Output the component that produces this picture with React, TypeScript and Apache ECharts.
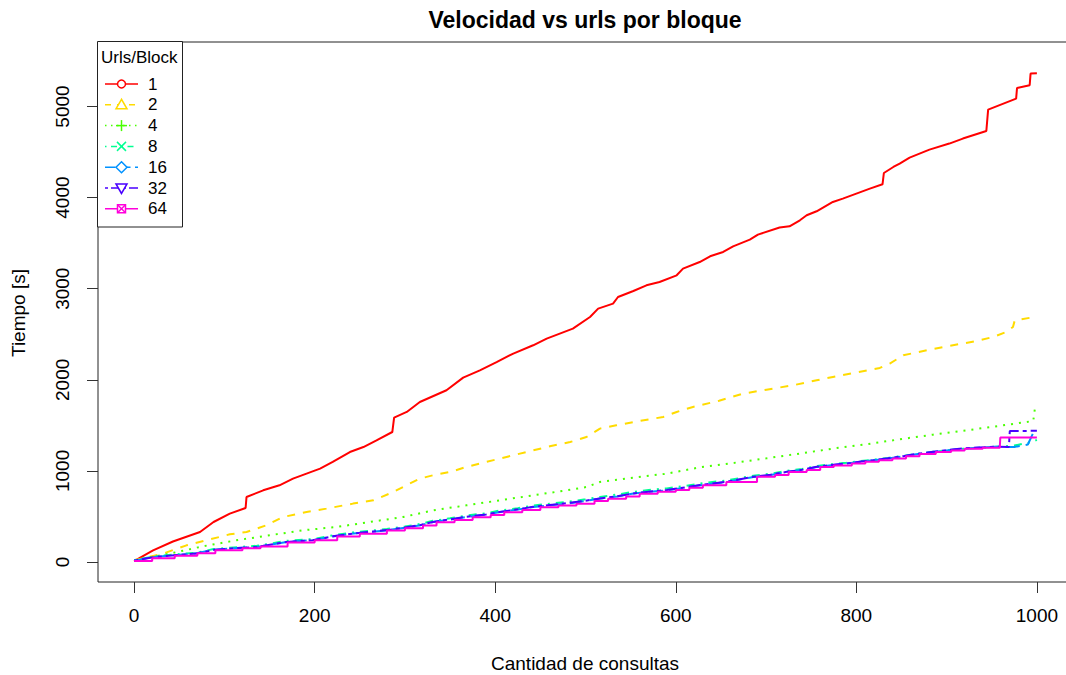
import React, { useEffect, useRef } from "react";
import * as echarts from "echarts";

const FONT = "'Liberation Sans', Arial, Helvetica, sans-serif";

const titleText = "Velocidad vs urls por bloque";
const xTitle = "Cantidad de consultas";
const yTitle = "Tiempo [s]";
const legendTitle = "Urls/Block";

const xTicks = [0, 200, 400, 600, 800, 1000];
const yTicks = [0, 1000, 2000, 3000, 4000, 5000];

const seriesNames = ["1", "2", "4", "8", "16", "32", "64"];
const seriesColors = ["#FF0000", "#FFDB00", "#49FF00", "#00FF92", "#0092FF", "#4900FF", "#FF00DB"];
const seriesDash: (number[] | "solid")[] = ["solid", [8, 8], [2, 6], [2, 6, 8, 6], [14, 6], [4, 4, 12, 4], "solid"];
const seriesSymbols = ["circle", "triangle", "plus", "cross", "diamond", "invtriangle", "boxcross"];

const s1 = [
  [0, 10], [21, 128], [43, 225], [73, 330], [88, 439], [106, 531], [123.5, 593], [124.5, 713], [143, 787],
  [161, 842], [176, 915], [191, 970], [206, 1025], [220, 1098], [239, 1207], [254, 1262], [268.5, 1336],
  [286, 1427], [288, 1585], [302, 1647], [316.5, 1756], [346, 1885], [364.5, 2024], [383, 2104],
  [401.5, 2195], [420, 2288], [442, 2379], [457, 2452], [486, 2562], [505, 2689], [514, 2781],
  [530.5, 2836], [536, 2909], [553, 2975], [567.5, 3037], [582, 3074], [601, 3147], [608, 3220],
  [626.5, 3293], [638, 3356], [652.5, 3403], [663.5, 3465], [682, 3539], [691, 3594], [715, 3671],
  [726, 3685], [737.5, 3751], [745, 3806], [756, 3850], [774, 3952], [785, 3989], [800, 4044],
  [815, 4099], [829, 4146], [830.5, 4270], [841, 4336], [848, 4373], [859, 4439], [881, 4527],
  [903, 4593], [918, 4648], [944, 4731], [946, 4966], [977, 5087], [978, 5203], [992, 5233],
  [993, 5361], [1000, 5364],
];

const s2 = [
  [0, 19], [32, 92], [58, 183], [80, 238], [106, 304], [124.5, 329], [146.5, 403], [165, 494], [191, 549],
  [213, 586], [242.5, 641], [265, 677], [287, 768], [305, 860], [316.5, 915], [331, 952], [350, 988],
  [368, 1043], [390, 1098], [412.5, 1153], [434.5, 1207], [460.5, 1270], [483, 1317], [501, 1372],
  [516, 1464], [534, 1500], [560, 1548], [586, 1592], [601, 1647], [619, 1702], [648, 1770],
  [674.5, 1848], [700.5, 1892], [730, 1940], [756, 1995], [774, 2031], [796.5, 2075], [826, 2130],
  [837, 2178], [852, 2269], [878, 2324], [907, 2379], [933, 2426], [951.5, 2470], [966, 2525],
  [973.5, 2580], [975.5, 2653], [995.5, 2686], [1000, 2690],
];

const s4 = [
  [0, 19], [39.5, 92], [76, 172], [113, 238], [150, 293], [187, 348], [224, 384], [261, 439], [298, 494],
  [331, 567], [368, 622], [405, 677], [442, 732], [479, 787], [501, 823], [516, 878], [553, 926],
  [590, 970], [627, 1040], [663.5, 1087], [700.5, 1138], [737.5, 1190], [774, 1245], [811, 1292],
  [848, 1347], [885, 1398], [922, 1445], [959, 1495], [996, 1548], [998, 1702], [1000, 1705],
];

const s8 = [
  [0, 20], [21, 60], [45, 82], [69, 102], [88, 142], [110, 160], [136, 178], [169, 232], [198, 252],
  [220, 292], [243, 325], [280, 362], [300, 390], [317, 418], [331, 452], [350, 480], [368, 510],
  [390, 535], [405, 565], [425, 590], [442, 620], [460, 640], [479, 660], [500, 688], [516, 715],
  [535, 740], [553, 770], [570, 790], [590, 808], [610, 835], [627, 862], [656, 895], [686, 948],
  [705, 970], [723, 1000], [740, 1022], [756, 1052], [770, 1070], [789, 1090], [805, 1108], [819, 1124],
  [835, 1142], [852, 1165], [868, 1188], [885, 1210], [900, 1226], [918, 1242], [935, 1252],
  [955, 1265], [975, 1278], [995, 1318], [1000, 1340],
];

const s16 = [
  [0, 15], [21, 55], [45, 75], [69, 95], [88, 135], [110, 150], [136, 165], [169, 220], [198, 240],
  [220, 280], [243, 312], [280, 348], [300, 375], [317, 403], [331, 439], [350, 465], [368, 494],
  [390, 520], [405, 549], [425, 575], [442, 604], [460, 622], [479, 641], [500, 670], [516, 696],
  [535, 720], [553, 751], [570, 770], [590, 787], [610, 815], [627, 842], [656, 878], [686, 933],
  [705, 955], [723, 988], [740, 1010], [756, 1043], [770, 1060], [789, 1080], [805, 1100], [819, 1116],
  [835, 1135], [852, 1160], [868, 1185], [885, 1207], [900, 1225], [918, 1244], [935, 1255],
  [955, 1265], [975, 1262], [990, 1290], [996, 1420], [1000, 1445],
];

const s32 = [
  [0, 15], [21, 52], [45, 75], [69, 92], [88, 132], [110, 150], [136, 165], [169, 220], [198, 238],
  [220, 282], [243, 312], [280, 350], [300, 378], [317, 405], [331, 440], [350, 468], [368, 497],
  [390, 522], [405, 550], [425, 578], [442, 606], [460, 625], [479, 645], [500, 672], [516, 698],
  [535, 722], [553, 752], [570, 772], [590, 790], [610, 818], [627, 845], [656, 880], [686, 935],
  [705, 958], [723, 990], [740, 1012], [756, 1045], [770, 1062], [789, 1082], [805, 1102], [819, 1118],
  [835, 1138], [852, 1162], [868, 1188], [885, 1210], [900, 1228], [918, 1246], [935, 1258],
  [955, 1265], [969, 1262], [970, 1438], [1000, 1440],
];

const s64 = [
  [0, 10], [20, 40], [45, 70], [70, 95], [90, 130], [120, 150], [140, 170], [170, 215], [200, 240],
  [225, 280], [250, 310], [280, 345], [300, 370], [320, 400], [335, 435], [355, 460], [375, 490],
  [395, 515], [410, 545], [430, 570], [450, 600], [470, 620], [490, 640], [510, 670], [525, 695],
  [545, 720], [560, 750], [580, 770], [600, 790], [615, 815], [630, 842], [656, 878], [690, 935],
  [710, 955], [725, 988], [745, 1010], [760, 1043], [775, 1060], [795, 1080], [810, 1100], [825, 1116],
  [840, 1135], [855, 1160], [870, 1185], [888, 1207], [905, 1225], [920, 1244], [940, 1255],
  [959, 1281], [959.5, 1366], [1000, 1366],
];

const seriesData = [s1, s2, s4, s8, s16, s32, s64];

function symbolGraphic(kind: string, cx: number, cy: number, color: string): any[] {
  const st = { stroke: color, fill: "none", lineWidth: 1.5 };
  const r = 4.5;
  switch (kind) {
    case "circle":
      return [{ type: "circle", shape: { cx, cy, r: 4 }, style: { ...st, fill: "#fff" }, z: 101 }];
    case "triangle":
      return [{ type: "polygon", shape: { points: [[cx, cy - 5.5], [cx - 5.5, cy + 4], [cx + 5.5, cy + 4]] }, style: { ...st, fill: "#fff" }, z: 101 }];
    case "invtriangle":
      return [{ type: "polygon", shape: { points: [[cx, cy + 5.5], [cx - 5.5, cy - 4], [cx + 5.5, cy - 4]] }, style: { ...st, fill: "#fff" }, z: 101 }];
    case "plus":
      return [
        { type: "line", shape: { x1: cx - r - 1, y1: cy, x2: cx + r + 1, y2: cy }, style: st, z: 101 },
        { type: "line", shape: { x1: cx, y1: cy - r - 1, x2: cx, y2: cy + r + 1 }, style: st, z: 101 },
      ];
    case "cross":
      return [
        { type: "line", shape: { x1: cx - r, y1: cy - r, x2: cx + r, y2: cy + r }, style: st, z: 101 },
        { type: "line", shape: { x1: cx - r, y1: cy + r, x2: cx + r, y2: cy - r }, style: st, z: 101 },
      ];
    case "diamond":
      return [{ type: "polygon", shape: { points: [[cx, cy - 5.5], [cx + 5.5, cy], [cx, cy + 5.5], [cx - 5.5, cy]] }, style: { ...st, fill: "#fff" }, z: 101 }];
    case "boxcross":
      return [
        { type: "rect", shape: { x: cx - 4, y: cy - 4, width: 8, height: 8 }, style: { ...st, fill: "#fff" }, z: 101 },
        { type: "line", shape: { x1: cx - 4, y1: cy - 4, x2: cx + 4, y2: cy + 4 }, style: st, z: 102 },
        { type: "line", shape: { x1: cx - 4, y1: cy + 4, x2: cx + 4, y2: cy - 4 }, style: st, z: 102 },
      ];
  }
  return [];
}

function buildLegend(): any[] {
  const els: any[] = [];
  els.push({
    type: "rect",
    shape: { x: 97.5, y: 41.5, width: 85, height: 185.5 },
    style: { fill: "#fff", stroke: "#222", lineWidth: 1 },
    z: 100,
  });
  els.push({
    type: "text",
    x: 101,
    y: 57,
    style: { text: legendTitle, fontSize: 17, fontFamily: FONT, fill: "#000", textAlign: "left", textVerticalAlign: "middle" },
    z: 101,
  });
  seriesNames.forEach((name, i) => {
    const y = 84 + i * 20.8;
    const dash = seriesDash[i];
    els.push({
      type: "line",
      shape: { x1: 105, y1: y, x2: 138, y2: y },
      style: { stroke: seriesColors[i], lineWidth: 1.5, lineDash: dash === "solid" ? null : dash.map((d) => d * 0.75) },
      z: 101,
    });
    symbolGraphic(seriesSymbols[i], 121.5, y, seriesColors[i]).forEach((e) => els.push(e));
    els.push({
      type: "text",
      x: 148,
      y: y,
      style: { text: name, fontSize: 17, fontFamily: FONT, fill: "#000", textAlign: "left", textVerticalAlign: "middle" },
      z: 101,
    });
  });
  return els;
}

export default function App() {
  const ref = useRef<HTMLDivElement>(null);
  useEffect(() => {
    if (!ref.current) return;
    const chart = echarts.init(ref.current, null, { renderer: "svg" });
    const option: any = {
      animation: false,
      backgroundColor: "#ffffff",
      grid: {
        left: 98,
        top: 42,
        width: 975,
        height: 540,
        show: true,
        borderColor: "#222",
        borderWidth: 1,
        backgroundColor: "transparent",
        containLabel: false,
        outerBoundsMode: "none",
      },
      xAxis: {
        type: "value",
        min: -40,
        max: 1040,
        axisLine: { show: false, onZero: false },
        splitLine: { show: false },
        axisTick: { show: true, inside: false, length: 11, lineStyle: { color: "#333", width: 1 }, customValues: xTicks },
        axisLabel: {
          show: true, fontSize: 19, fontFamily: FONT, color: "#000", margin: 24, customValues: xTicks,
          formatter: (v: number) => String(v),
        },
      },
      yAxis: {
        type: "value",
        min: -219.5,
        max: 5708,
        axisLine: { show: false, onZero: false },
        splitLine: { show: false },
        axisTick: { show: true, inside: false, length: 11, lineStyle: { color: "#333", width: 1 }, customValues: yTicks },
        axisLabel: {
          show: true, fontSize: 19, fontFamily: FONT, color: "#000", margin: 26, rotate: 90, customValues: yTicks,
          formatter: (v: number) => String(v),
        },
      },
      series: seriesData.map((d, i) => ({
        name: seriesNames[i],
        type: "line",
        data: d,
        showSymbol: false,
        symbol: "none",
        step: i === 6 ? "end" : false,
        clip: true,
        lineStyle: { color: seriesColors[i], width: 2, type: seriesDash[i], cap: "butt" },
        z: 2 + i,
      })),
      graphic: [
        {
          type: "text",
          x: 585,
          y: 20,
          style: { text: titleText, fontSize: 23, fontWeight: "bold", fontFamily: FONT, fill: "#000", textAlign: "center", textVerticalAlign: "middle" },
        },
        {
          type: "text",
          x: 585,
          y: 663,
          style: { text: xTitle, fontSize: 19, fontFamily: FONT, fill: "#000", textAlign: "center", textVerticalAlign: "middle" },
        },
        {
          type: "text",
          x: 18,
          y: 313,
          rotation: Math.PI / 2,
          style: { text: yTitle, fontSize: 19, fontFamily: FONT, fill: "#000", textAlign: "center", textVerticalAlign: "middle" },
        },
        ...buildLegend(),
      ],
    };
    chart.setOption(option);
    return () => chart.dispose();
  }, []);
  return <div ref={ref} style={{ position: "fixed", left: 0, top: 0, width: 1066, height: 675 }} />;
}
